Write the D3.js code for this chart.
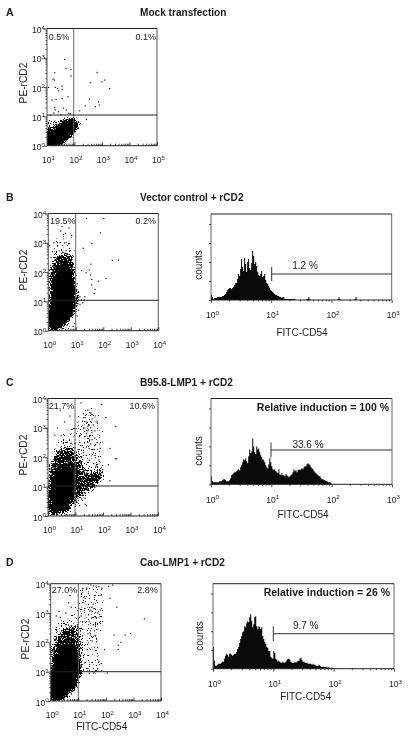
<!DOCTYPE html>
<html>
<head>
<meta charset="utf-8">
<script src="https://cdn.jsdelivr.net/npm/d3@7/dist/d3.min.js"></script>
<style>
  html, body { margin: 0; padding: 0; background: #fff; }
  svg { display: block; font-family: "Liberation Sans", Arial, sans-serif; fill: #1a1a1a; filter: blur(0.3px); }
</style>
</head>
<body>
<div id="chart"></div>
<script>
// Histogram heights per channel (60 channels per decade)
const histB = [5,3,1,2,2,2,3,3,3,3,3,4,4,5,6,8,10,11,12,12,11,12,13,15,17,17,21,26,24,31,41,33,29,42,36,28,38,41,32,30,37,49,44,36,38,34,28,25,24,26,29,23,24,26,20,17,16,14,12,10,9,8,7,6,5,5,4,4,3,3,2,3,3,1,1,1,1,1,1,1,1,1,1,1,0,0,0,0,0,0,0,0,0,0,0,1,1,3,1,0,0,0,0,0,0,0,0,0,0,0,0,0,0,0,0,0,0,0,0,0,0,0,0,0,0,0,1,3,1,0,0,0,0,0,0,0,0,0,0,0,0,0,0,1,3,1]
const histC = [8,3,2,2,2,2,2,2,3,3,3,4,5,5,4,3,3,3,4,6,9,10,11,12,12,13,14,15,14,17,19,22,25,24,26,23,21,28,35,31,33,46,38,32,30,38,35,36,32,29,27,25,24,22,19,17,16,20,26,22,18,15,14,15,13,12,11,15,10,9,11,9,9,8,10,9,8,7,8,9,10,12,15,13,14,12,14,15,14,15,16,15,17,18,18,20,21,20,19,17,16,15,13,12,11,10,9,8,8,6,5,5,4,4,3,3,2,2,2,1,1]
const histD = [22,8,3,3,4,5,5,5,6,7,7,10,13,15,14,12,15,15,14,13,14,15,15,17,20,22,26,30,33,37,38,43,42,46,48,47,52,55,48,42,45,52,53,43,40,43,42,40,42,33,30,27,25,22,21,18,18,12,11,10,18,16,10,9,7,8,7,6,6,7,6,6,7,9,10,10,9,7,6,6,6,7,6,7,8,8,10,11,9,7,7,6,6,6,5,5,5,5,4,5,4,4,3,3,3,4,3,2,2,2,2,2,2,1,2,1,1,1,1,1]

// Flow cytometry clouds in log10 units [FITC, PE]: solid core, dense and sparse zones
const coreA = [[1,0],[1,.45],[1.3,.55],[1.6,.8],[2.0,.85],[2.08,.68],[1.9,.45],[1.6,.15],[1.3,0]]
const denseA = [[1,0],[1,.95],[1.4,.95],[2.1,1],[2.25,.7],[2,.3],[1.6,0]]
const sparseA = []
const coreB = [[.06,.02],[.04,.76],[.24,1.56],[.42,2.13],[.67,2.31],[.85,1.9],[.93,1.22],[.97,.88],[.79,.48],[.48,.19],[.3,0]]
const denseB = [[0,0],[0,1.5],[.1,2.2],[.4,2.6],[.8,2.6],[.97,2.2],[1,1.5],[1.15,1.05],[1,.5],[.8,.1],[.5,0]]
const sparseB = [[0,1.4],[.05,2.4],[.3,3.3],[.7,3.4],[.95,3],[1,2],[1.1,1]]
const coreC = [[.1,.09],[.07,1],[.32,1.45],[.68,1.75],[.95,1.57],[1.02,1.06],[.86,.6],[.56,.2]]
const denseC = [[0,0],[0,1.35],[.3,2.1],[.75,2.35],[1.1,2],[1.4,1.45],[1.9,1.55],[2,1.35],[1.6,.95],[1.1,.6],[.8,.25],[.5,0]]
const sparseC = [[0,1.3],[.1,2.2],[.35,2.8],[.8,3],[1.1,3.5],[1.35,3.75],[1.85,3.6],[2.05,2.9],[2.05,2.1],[2.1,1.4],[1.8,.9],[1.2,.45],[1,.2],[.6,0]]
const coreD = [[.04,.06],[.01,.9],[.22,1.48],[.46,1.88],[.76,1.99],[.92,1.59],[1.04,1.02],[.88,.51],[.58,.23],[.4,.06]]
const denseD = [[0,0],[0,1.6],[.25,2.2],[.55,2.5],[.95,2.5],[1.1,1.3],[1.15,.9],[.95,.4],[.7,.05]]
const sparseD = [[0,1.5],[.1,2.6],[.6,3],[.95,3.3],[1.05,3.95],[1.95,3.95],[2,3],[1.8,2],[1.9,1],[1.1,.9]]

// Outlying events in log10 units [FITC, PE]
const dotsA = [[1.64,2.94],[1.69,2.64],[1.87,2.6],[1.87,2.38],[1.28,2.49],[1.22,2.27],[1.27,2.24],[1.06,1.99],[1.3,1.99],[1.39,1.95],[1.55,2.03],[1.55,1.92],[1.42,1.87],[1.18,1.56],[1.33,1.58],[1.55,1.61],[1.76,1.67],[1.28,1.31],[1.3,1.22],[1.42,1.16],[1.6,1.28],[1.7,1.22],[1.79,1.1],[1.85,1.1],[1.12,1.05],[1.5,1.05],[1.25,1.12],[2.82,2.5],[2.58,2.16],[3,2.18],[3.1,2.24],[3.28,1.95],[2.54,1.59],[2.88,1.5],[2.76,1.33],[2.9,1.39],[2.39,1.36],[2.19,1.19],[2.43,.9]]
const dotsB = [[1.39,3.83],[2.02,3.83],[1.9,3.34],[1.27,2.81],[1.58,2.98],[2.33,2.4],[2.55,2.41],[1.55,2.27],[1.21,2.05],[1.37,1.98],[1.49,2.07],[1.54,1.9],[1.82,1.69],[2.1,1.78],[1.58,1.75],[1.7,1.41],[1.58,1.56],[1.67,1.27],[1.15,1.16],[1.33,1.16],[.5,3.55],[.45,3.4],[.62,3.32],[.75,3.5],[.85,3.25],[.2,3],[.15,2.7],[.05,2.9],[.1,2.5],[1.05,1.6],[1.1,1.3],[1.2,1.05],[1.3,1.05],[1.25,.95],[1.15,.9],[1.1,.7],[1.05,.5],[.95,.25],[.9,.15]]
const dotsC = [[1.95,3.8],[1.2,3.85],[.45,3.6],[.8,3.4],[.6,3.2],[.25,2.75],[.35,3],[2.45,3.05],[2.1,3.35],[2.25,2.3],[2.45,1.95],[2.5,1.95],[2.2,1.75],[2.25,1.2],[1.15,.35],[1.35,.4],[1.4,.35],[1.35,.6],[1.45,3.6],[1.55,3.5],[1.6,3.3],[1.4,3.2],[1.5,3.1],[1.3,3],[1.45,2.9],[1.55,2.75],[1.65,3.1],[1.7,2.9],[1.75,3.2],[1.6,2.6],[1.45,2.5],[1.35,2.7],[1.5,2.3],[1.7,2.4],[1.8,2.5],[1.65,2.15],[1.85,1.9],[1.75,1.7],[1.5,1.9],[1.3,2.15],[1.2,2.4],[1.15,2.7],[1.6,3.45],[1.35,3.35],[1.45,3.05],[1.6,2.85],[1.55,3],[1.4,2.8],[1.7,2.65],[1.9,2.3],[1.55,2.45],[1.4,2.35]]
const dotsD = [[2.1,3.9],[2.25,3.95],[1.3,3.85],[1.45,3.95],[1.55,3.92],[1.65,3.92],[1.75,3.9],[1.85,3.85],[2.15,3.5],[2.4,3.2],[3.4,2.8],[2.7,2.25],[2.3,2.25],[2.45,1.9],[2.55,2],[2.9,2.3],[1.95,1.75],[2.45,1.76],[.7,3.6],[.65,3.35],[.3,3.05],[.55,3],[.2,2.9],[.35,2.85],[.75,3.2],[1.5,3.2],[1.5,3.05],[1.45,3.1],[1.55,3.3],[1.6,3.15],[1.7,3],[1.65,2.85],[1.8,3.1],[1.4,2.7],[1.55,2.6],[1.35,2.3],[1.5,2.05],[1.25,3.5],[1.1,2.9],[2.05,.95],[1.4,.95],[1.55,.95],[1.7,1.1],[1.75,1.35]]

const xTicksA = [1, 2, 3, 4, 5]
const xTicksRest = [0, 1, 2, 3, 4]
const yTicks = [0, 1, 2, 3, 4]
const histTicks = [0, 1, 2, 3]

const panels = [
  { letter: 'A', title: 'Mock transfection', titleY: 16, x0: 47, x1: 157, y0: 145.7, y1: 28.5, qx: 73.7, qy: 115, xExp: xTicksA, core: coreA, coreAlpha: 1, dense: denseA, sparse: sparseA, dots: dotsA, tl: '0.5%', tr: '0.1%', tlX: 48.7, trX: 156, pctY: 39.5, labelX: 26.7, labelY: 83, tickY: 163 },
  { letter: 'B', title: 'Vector control + rCD2', titleY: 201, x0: 48.3, x1: 158.3, y0: 330.7, y1: 213.5, qx: 75.7, qy: 300.3, xExp: xTicksRest, core: coreB, coreAlpha: 0.75, dense: denseB, sparse: sparseB, dots: dotsB, tl: '19.5%', tr: '0.2%', tlX: 50, trX: 156, pctY: 224, labelX: 26.7, labelY: 270, tickY: 348 },
  { letter: 'C', title: 'B95.8-LMP1 + rCD2', titleY: 386, x0: 48, x1: 158, y0: 516, y1: 398.5, qx: 75, qy: 486, xExp: xTicksRest, core: coreC, coreAlpha: 0.6, dense: denseC, sparse: sparseC, dots: dotsC, tl: '21.7%', tr: '10.6%', tlX: 48.7, trX: 155, pctY: 409, labelX: 26.7, labelY: 455, tickY: 533 },
  { letter: 'D', title: 'Cao-LMP1 + rCD2', titleY: 566, x0: 50.7, x1: 161, y0: 701, y1: 583.7, qx: 78.3, qy: 671.7, xExp: xTicksRest, core: coreD, coreAlpha: 0.75, dense: denseD, sparse: sparseD, dots: dotsD, tl: '27.0%', tr: '2.8%', tlX: 51.7, trX: 157.7, pctY: 593, labelX: 29, labelY: 639, tickY: 718 }
]

const histPanels = [
  { values: histB, x0: 211, x1: 391.7, y0: 300, y1: 214, gate: 271.7, gateY: 274, gateH: 7, pct: '1.2 %', pctX: 305, pctY: 269.3, countsX: 202, countsY: 265, fitcX: 302, fitcY: 335.7, tickY: 318 },
  { values: histC, x0: 211, x1: 392, y0: 484.3, y1: 398.5, gate: 271, gateY: 450, gateH: 7.5, pct: '33.6 %', pctX: 308, pctY: 448, countsX: 202, countsY: 451, fitcX: 303, fitcY: 518, tickY: 502.6, note: 'Relative induction = 100 %', noteX: 389, noteY: 411.3 },
  { values: histD, x0: 213, x1: 394, y0: 668.7, y1: 583.7, gate: 273.3, gateY: 633.7, gateH: 7.5, pct: '9.7 %', pctX: 305.7, pctY: 629.3, countsX: 203, countsY: 636, fitcX: 305.7, fitcY: 700, tickY: 687, note: 'Relative induction = 26 %', noteX: 390, noteY: 596 }
]

const width = 410
const height = 736
const minorFactors = [2, 3, 4, 5, 6, 7, 8, 9]

const svg = d3.select('#chart').append('svg')
  .attr('width', width)
  .attr('height', height)
  .attr('viewBox', [0, 0, width, height])

const defs = svg.append('defs')

// Turns the painted density of a cloud into speckle: soft density + noise, then a hard threshold
const addGrain = (id, seed) => {
  const f = defs.append('filter')
    .attr('id', id)
    .attr('filterUnits', 'userSpaceOnUse')
    .attr('x', 0).attr('y', 0).attr('width', width).attr('height', height)
    .attr('color-interpolation-filters', 'sRGB')
  f.append('feGaussianBlur').attr('in', 'SourceAlpha').attr('stdDeviation', 2).attr('result', 'soft')
  f.append('feTurbulence')
    .attr('type', 'fractalNoise')
    .attr('baseFrequency', 0.85)
    .attr('numOctaves', 2)
    .attr('seed', seed)
    .attr('result', 'noise')
  f.append('feColorMatrix')
    .attr('in', 'noise')
    .attr('type', 'matrix')
    .attr('values', '0 0 0 0 0  0 0 0 0 0  0 0 0 0 0  1 0 0 0 0')
    .attr('result', 'noiseAlpha')
  f.append('feComposite')
    .attr('in', 'soft')
    .attr('in2', 'noiseAlpha')
    .attr('operator', 'arithmetic')
    .attr('k1', 0).attr('k2', 1).attr('k3', 1).attr('k4', -0.95)
    .attr('result', 'sum')
  f.append('feComponentTransfer')
    .attr('in', 'sum')
    .append('feFuncA')
    .attr('type', 'linear')
    .attr('slope', 14)
    .attr('intercept', 0)
}

const addLabel = (g, x, y, exp, anchor, size, supSize) => {
  const t = g.append('text')
    .attr('x', x)
    .attr('y', y)
    .attr('text-anchor', anchor)
    .attr('font-size', size)
  t.append('tspan').text('10')
  t.append('tspan').attr('dy', -3.5).attr('font-size', supSize).text(exp)
}

const frame = (g, x0, x1, y0, y1, side) => {
  const line = (a, b, c, d, color) => g.append('line')
    .attr('x1', a).attr('x2', b).attr('y1', c).attr('y2', d)
    .attr('stroke', color).attr('stroke-width', 1)
  line(x0, x0, y0, y1, side)
  line(x1, x1, y0, y1, side)
  line(x0, x1, y1, y1, '#222')
  line(x0, x1, y0, y0, '#222')
}

const decadeTicks = (lo, hi) => {
  const minor = []
  for (let e = lo; e < hi; e++) minorFactors.forEach(f => minor.push(f * 10 ** e))
  return minor
}

const drawAxis = (g, axis, transform) => g.append('g')
  .attr('transform', transform)
  .call(axis)
  .call(s => s.select('.domain').remove())
  .call(s => s.selectAll('text').remove())
  .call(s => s.selectAll('line').attr('stroke', '#222').attr('stroke-width', 0.8))

// Dot plots
panels.forEach((p, i) => {
  const g = svg.append('g')
  const xDecades = p.xExp
  const x = d3.scaleLog()
    .domain([10 ** xDecades[0], 10 ** xDecades[xDecades.length - 1]])
    .range([p.x0, p.x1])
  const y = d3.scaleLog().domain([1, 1e4]).range([p.y0, p.y1])

  g.append('text').attr('x', 6).attr('y', p.titleY).attr('font-size', 10.5).attr('font-weight', 'bold').text(p.letter)
  g.append('text').attr('x', 140).attr('y', p.titleY).attr('font-size', 10.1).attr('font-weight', 'bold').text(p.title)

  defs.append('clipPath').attr('id', `plot${i}`)
    .append('rect').attr('x', p.x0).attr('y', p.y1).attr('width', p.x1 - p.x0).attr('height', p.y0 - p.y1)
  addGrain(`grain${i}`, 3 + i * 4)

  const cloud = d3.line().x(d => x(10 ** d[0])).y(d => y(10 ** d[1])).curve(d3.curveCatmullRomClosed)
  const speckle = g.append('g').attr('clip-path', `url(#plot${i})`)
    .append('g').attr('filter', `url(#grain${i})`)
  if (p.sparse.length) speckle.append('path').attr('d', cloud(p.sparse)).attr('fill', '#000').attr('fill-opacity', 0.32)
  speckle.append('path').attr('d', cloud(p.dense)).attr('fill', '#000').attr('fill-opacity', 0.42)
  speckle.append('path').attr('d', cloud(p.core)).attr('fill', '#000').attr('fill-opacity', p.coreAlpha)

  g.selectAll('.dot')
    .data(p.dots)
    .join('rect')
    .attr('x', d => x(10 ** d[0]) - 0.6)
    .attr('y', d => y(10 ** d[1]) - 0.6)
    .attr('width', 1.2)
    .attr('height', 1.2)
    .attr('fill', '#111')

  frame(g, p.x0, p.x1, p.y0, p.y1, '#555')
  g.append('line').attr('x1', p.qx).attr('x2', p.qx).attr('y1', p.y0).attr('y2', p.y1).attr('stroke', '#666')
  g.append('line').attr('x1', p.x0).attr('x2', p.x1).attr('y1', p.qy).attr('y2', p.qy).attr('stroke', '#222')

  drawAxis(g, d3.axisBottom(x).tickValues(decadeTicks(xDecades[0], xDecades[xDecades.length - 1])).tickSize(-2).tickFormat(''), `translate(0,${p.y0})`)
  drawAxis(g, d3.axisBottom(x).tickValues(xDecades.map(e => 10 ** e)).tickSize(-3.5).tickFormat(''), `translate(0,${p.y0})`)
  drawAxis(g, d3.axisLeft(y).tickValues(decadeTicks(0, 4)).tickSize(1.5).tickFormat(''), `translate(${p.x0},0)`)
  drawAxis(g, d3.axisLeft(y).tickValues(yTicks.map(e => 10 ** e)).tickSize(3).tickFormat(''), `translate(${p.x0},0)`)

  xDecades.forEach(e => addLabel(g, x(10 ** e) + 1.5, p.tickY, e, 'middle', 8.5, 6.2))
  yTicks.forEach(e => addLabel(g, p.x0 - 2, y(10 ** e) + 4.5, e, 'end', 8.5, 6.2))

  g.append('text')
    .attr('transform', `translate(${p.labelX},${p.labelY}) rotate(-90)`)
    .attr('text-anchor', 'middle')
    .attr('font-size', 10.2)
    .text('PE-rCD2')
  g.append('text').attr('x', p.tlX).attr('y', p.pctY).attr('font-size', 9).text(p.tl)
  g.append('text').attr('x', p.trX).attr('y', p.pctY).attr('font-size', 9).attr('text-anchor', 'end').text(p.tr)
})

// FITC-CD54 label under the last dot plot
svg.append('text').attr('x', 101.7).attr('y', 730).attr('font-size', 10).attr('text-anchor', 'middle').text('FITC-CD54')

// Histograms
histPanels.forEach(h => {
  const g = svg.append('g')
  const x = d3.scaleLog().domain([1, 1000]).range([h.x0, h.x1])
  const channel = d3.scaleLinear().domain([0, 180]).range([h.x0, h.x1])
  const y = d3.scaleLinear().domain([0, 86]).range([h.y0, h.y1])

  const area = d3.area()
    .x((d, i) => channel(i))
    .y0(y(0))
    .y1(d => y(d))
    .curve(d3.curveStepAfter)
  g.append('path').datum(h.values).attr('d', area).attr('fill', '#0a0a0a')

  frame(g, h.x0, h.x1, h.y0, h.y1, '#666')

  drawAxis(g, d3.axisBottom(x).tickValues(decadeTicks(0, 3)).tickSize(1.5).tickFormat(''), `translate(0,${h.y0})`)
  drawAxis(g, d3.axisBottom(x).tickValues(histTicks.map(e => 10 ** e)).tickSize(3).tickFormat(''), `translate(0,${h.y0})`)
  drawAxis(g, d3.axisLeft(y).tickValues(d3.range(0, 86, 19)).tickSize(2).tickFormat(''), `translate(${h.x0},0)`)

  histTicks.forEach(e => addLabel(g, x(10 ** e) + 1.5, h.tickY, e, 'middle', 8.5, 6.2))

  g.append('line').attr('x1', h.gate).attr('x2', h.x1).attr('y1', h.gateY).attr('y2', h.gateY).attr('stroke', '#333')
  g.append('line').attr('x1', h.gate).attr('x2', h.gate).attr('y1', h.gateY - h.gateH).attr('y2', h.gateY + h.gateH).attr('stroke', '#333')

  g.append('text').attr('x', h.pctX).attr('y', h.pctY).attr('font-size', 10).attr('text-anchor', 'middle').text(h.pct)
  g.append('text')
    .attr('transform', `translate(${h.countsX},${h.countsY}) rotate(-90)`)
    .attr('text-anchor', 'middle')
    .attr('font-size', 10)
    .text('counts')
  g.append('text').attr('x', h.fitcX).attr('y', h.fitcY).attr('font-size', 10).attr('text-anchor', 'middle').text('FITC-CD54')
  if (h.note) {
    g.append('text').attr('x', h.noteX).attr('y', h.noteY).attr('font-size', 10.5).attr('font-weight', 'bold').attr('text-anchor', 'end').text(h.note)
  }
})
</script>
</body>
</html>
